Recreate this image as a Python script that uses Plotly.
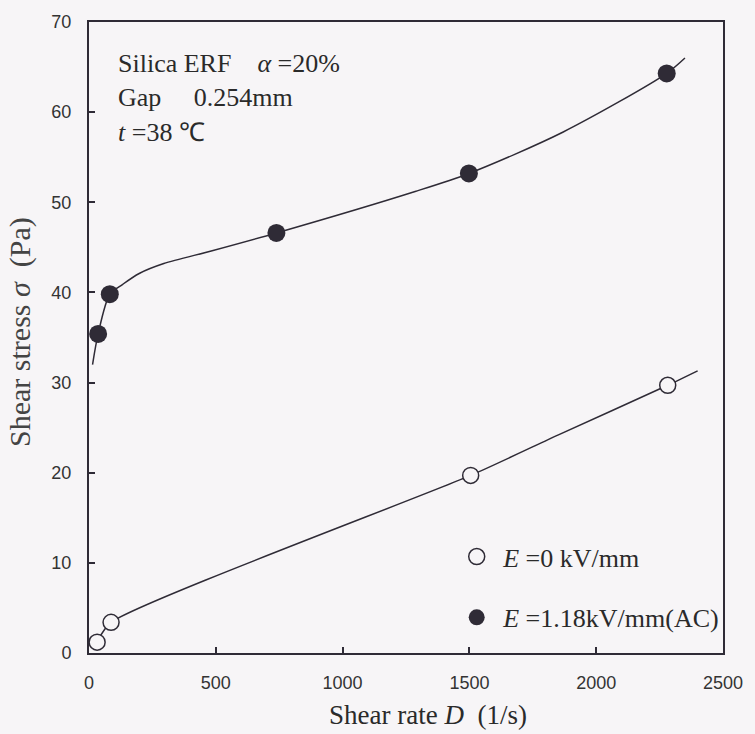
import plotly.graph_objects as go

# Measured points
rate_off = [32, 87, 1505, 2282]
stress_off = [1.2, 3.4, 19.7, 29.7]
rate_on = [36, 82, 739, 1498, 2278]
stress_on = [35.4, 39.8, 46.6, 53.2, 64.3]

# Hand-drawn fitting curves
fit_off_x = [30, 87, 1505, 1851, 2282, 2400]
fit_off_y = [1.2, 3.4, 19.7, 24.2, 29.7, 31.3]
fit_on_x = [14, 36, 82, 133, 198, 295, 482, 739, 1286, 1498, 1870, 2278, 2350]
fit_on_y = [32.0, 35.4, 39.8, 40.9, 42.1, 43.2, 44.6, 46.6, 51.2, 53.2, 57.8, 64.3, 66.0]

x_ticks = [0, 500, 1000, 1500, 2000, 2500]
y_ticks = [0, 10, 20, 30, 40, 50, 60, 70]

BG = "#f7f5f7"
INK = "#2f2b36"
SERIF = "Liberation Serif, Times New Roman, serif"
SANS = "Liberation Sans, Arial, sans-serif"

fig = go.Figure()

fig.add_trace(go.Scatter(x=fit_off_x, y=fit_off_y, mode="lines",
                         line=dict(color=INK, width=1.5, shape="spline", smoothing=0.6),
                         showlegend=False, hoverinfo="skip"))
fig.add_trace(go.Scatter(x=fit_on_x, y=fit_on_y, mode="lines",
                         line=dict(color=INK, width=1.5, shape="spline", smoothing=0.8),
                         showlegend=False, hoverinfo="skip"))

fig.add_trace(go.Scatter(x=rate_off, y=stress_off, mode="markers",
                         name="&nbsp;<i>E</i> =0 kV/mm", legendgroup="off",
                         marker=dict(symbol="circle", size=16, color=BG,
                                     line=dict(color=INK, width=1.5))))
fig.add_trace(go.Scatter(x=rate_on, y=stress_on, mode="markers",
                         name="&nbsp;<i>E</i> =1.18kV/mm(AC)", legendgroup="on",
                         marker=dict(symbol="circle", size=18, color=INK,
                                     line=dict(color=INK, width=0))))

axis_common = dict(showline=True, linecolor=INK, linewidth=2, mirror=True,
                   ticks="inside", ticklen=6, tickwidth=1.5, tickcolor=INK,
                   showgrid=False, zeroline=False,
                   tickfont=dict(family=SANS, size=18, color="#333333"))

fig.update_xaxes(range=[0, 2500], tickvals=x_ticks,
                 ticktext=[str(v) for v in x_ticks], ticklabelstandoff=12, **axis_common)
fig.update_yaxes(range=[0, 70], tickvals=y_ticks,
                 ticktext=[str(v) for v in y_ticks], ticklabelstandoff=12, **axis_common)

TEXT = "#2a2a2a"
annotations = [
    dict(text="Shear rate <i>D</i>  (1/s)", x=0.535, y=-0.1245, showarrow=False,
         xref="paper", yref="paper", xanchor="center", yanchor="bottom",
         font=dict(family=SERIF, size=27, color=TEXT)),
    dict(text="Shear stress <i>σ</i>  (Pa)", x=-0.108, y=0.508, showarrow=False,
         xref="paper", yref="paper", xanchor="center", yanchor="middle", textangle=-90,
         font=dict(family=SERIF, size=30, color="#444444")),
    dict(text="Silica ERF    <i>α</i> =20%", x=0.042, y=0.934, showarrow=False,
         xref="paper", yref="paper", xanchor="left", yanchor="middle",
         font=dict(family=SERIF, size=26, color=TEXT)),
    dict(text="Gap     0.254mm", x=0.042, y=0.880, showarrow=False,
         xref="paper", yref="paper", xanchor="left", yanchor="middle",
         font=dict(family=SERIF, size=26, color=TEXT)),
    dict(text="<i>t</i> =38 ℃", x=0.042, y=0.825, showarrow=False,
         xref="paper", yref="paper", xanchor="left", yanchor="middle",
         font=dict(family=SERIF, size=26, color=TEXT)),
]

fig.update_layout(
    width=755, height=734,
    margin=dict(l=89, r=23, t=15, b=81),
    paper_bgcolor=BG, plot_bgcolor=BG,
    annotations=annotations,
    legend=dict(x=0.580, y=0.190, xanchor="left", yanchor="top",
                bgcolor="rgba(0,0,0,0)", borderwidth=0,
                font=dict(family=SERIF, size=26, color=TEXT),
                tracegroupgap=24, itemsizing="trace"),
)

fig.write_html("out.html")
